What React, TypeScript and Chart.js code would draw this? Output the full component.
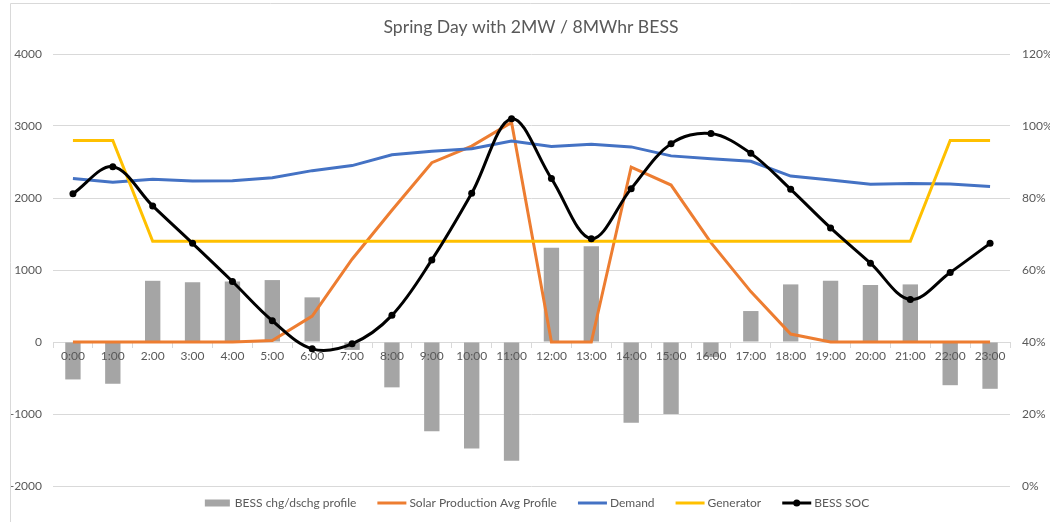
import React, { useEffect, useRef } from 'react';
import { Chart, registerables } from 'chart.js';

Chart.register(...registerables);

const TITLE = 'Spring Day with 2MW / 8MWhr BESS';
const FONT = 'Lato, "Liberation Sans", sans-serif';
const TEXT_COLOR = '#595959';
const GRID_COLOR = '#D9D9D9';

const hours = [
  '0:00', '1:00', '2:00', '3:00', '4:00', '5:00', '6:00', '7:00', '8:00', '9:00', '10:00', '11:00',
  '12:00', '13:00', '14:00', '15:00', '16:00', '17:00', '18:00', '19:00', '20:00', '21:00', '22:00', '23:00',
];

const bessProfile = [
  -520, -580, 850, 830, 840, 860, 620, -110, -630, -1240, -1480, -1650,
  1310, 1330, -1120, -1000, -210, 430, 800, 850, 790, 800, -600, -650,
];

const solarProfile = [
  0, 0, 0, 0, 0, 20, 360, 1150, 1830, 2490, 2720, 3050,
  0, 0, 2430, 2180, 1380, 700, 110, 0, 0, 0, 0, 0,
];

const demand = [
  2270, 2220, 2260, 2235, 2240, 2280, 2380, 2450, 2600, 2650, 2685, 2790,
  2715, 2745, 2710, 2585, 2545, 2510, 2305, 2250, 2190, 2200, 2195, 2160,
];

const generator = [
  2800, 2800, 1400, 1400, 1400, 1400, 1400, 1400, 1400, 1400, 1400, 1400,
  1400, 1400, 1400, 1400, 1400, 1400, 1400, 1400, 1400, 1400, 2800, 2800,
];

const bessSoc = [
  0.812, 0.887, 0.778, 0.674, 0.568, 0.459, 0.381, 0.395, 0.474, 0.628, 0.813, 1.02,
  0.854, 0.687, 0.826, 0.951, 0.979, 0.924, 0.824, 0.717, 0.619, 0.518, 0.593, 0.674,
];

const leftMin = -2000;
const leftMax = 4000;
const leftStep = 1000;
const rightMin = 0;
const rightMax = 1.2;
const rightStep = 0.2;

const decorPlugin = {
  id: 'decor',
  afterDraw(chart: any) {
    const ctx: CanvasRenderingContext2D = chart.ctx;
    ctx.save();
    // outer chart border (left + top)
    ctx.strokeStyle = GRID_COLOR;
    ctx.lineWidth = 1;
    ctx.beginPath();
    ctx.moveTo(10.5, 522);
    ctx.lineTo(10.5, 3.5);
    ctx.lineTo(1050, 3.5);
    ctx.stroke();

    // title
    ctx.fillStyle = TEXT_COLOR;
    ctx.font = `17.6px ${FONT}`;
    ctx.textAlign = 'center';
    ctx.textBaseline = 'middle';
    ctx.fillText(TITLE, 531, 27);

    // legend
    ctx.font = `12px ${FONT}`;
    ctx.textAlign = 'left';
    const symW = 29;
    const gapT = 3;
    const gapI = 21;
    const ds = chart.data.datasets;
    const widths = ds.map((d: any) => ctx.measureText(d.label).width);
    let total = 0;
    widths.forEach((w: number) => (total += symW + gapT + w));
    total += gapI * (ds.length - 1);
    let x = 536 - total / 2;
    const y = 503;
    ds.forEach((d: any, i: number) => {
      if (d.type === 'bar') {
        ctx.fillStyle = d.backgroundColor;
        ctx.fillRect(x + 2, y - 3.5, symW - 4, 7);
      } else {
        ctx.strokeStyle = d.borderColor;
        ctx.lineWidth = 3;
        ctx.beginPath();
        ctx.moveTo(x, y);
        ctx.lineTo(x + symW, y);
        ctx.stroke();
        if (d.pointRadius > 0) {
          ctx.fillStyle = d.pointBackgroundColor;
          ctx.beginPath();
          ctx.arc(x + symW / 2, y, 3.5, 0, Math.PI * 2);
          ctx.fill();
        }
      }
      ctx.fillStyle = TEXT_COLOR;
      ctx.fillText(d.label, x + symW + gapT, y);
      x += symW + gapT + widths[i] + gapI;
    });
    ctx.restore();
  },
};

export default function App() {
  const ref = useRef<HTMLCanvasElement | null>(null);

  useEffect(() => {
    if (!ref.current) return;
    const chart = new Chart(ref.current, {
      type: 'bar',
      data: {
        labels: hours,
        datasets: [
          {
            type: 'bar',
            label: 'BESS chg/dschg profile',
            data: bessProfile,
            backgroundColor: '#A5A5A5',
            borderWidth: 0,
            barPercentage: 0.385,
            categoryPercentage: 1,
            yAxisID: 'y',
            order: 5,
          } as any,
          {
            type: 'line',
            label: 'Solar Production Avg Profile',
            data: solarProfile,
            borderColor: '#ED7D31',
            backgroundColor: '#ED7D31',
            borderWidth: 3,
            pointRadius: 0,
            tension: 0,
            yAxisID: 'y',
            order: 4,
          },
          {
            type: 'line',
            label: 'Demand',
            data: demand,
            borderColor: '#4472C4',
            backgroundColor: '#4472C4',
            borderWidth: 3,
            pointRadius: 0,
            tension: 0,
            yAxisID: 'y',
            order: 3,
          },
          {
            type: 'line',
            label: 'Generator',
            data: generator,
            borderColor: '#FFC000',
            backgroundColor: '#FFC000',
            borderWidth: 3,
            pointRadius: 0,
            tension: 0,
            yAxisID: 'y',
            order: 2,
          },
          {
            type: 'line',
            label: 'BESS SOC',
            data: bessSoc,
            borderColor: '#000000',
            backgroundColor: '#000000',
            pointBackgroundColor: '#000000',
            pointBorderColor: '#000000',
            borderWidth: 3,
            pointRadius: 3.5,
            pointBorderWidth: 0,
            tension: 0.35,
            yAxisID: 'y1',
            order: 1,
          },
        ],
      },
      options: {
        responsive: false,
        animation: false,
        layout: { padding: { top: 54, bottom: 36, left: 0, right: 0 } },
        plugins: {
          legend: { display: false },
          title: { display: false },
          tooltip: { enabled: false },
        },
        scales: {
          x: {
            type: 'category',
            position: { y: 0 } as any,
            offset: true,
            grid: {
              display: true,
              offset: true,
              drawOnChartArea: false,
              drawTicks: true,
              tickLength: 5,
              color: GRID_COLOR,
            },
            border: { display: true, color: GRID_COLOR, width: 1 },
            ticks: {
              z: 1,
              color: TEXT_COLOR,
              font: { family: FONT, size: 12 },
              padding: 2,
              maxRotation: 0,
              autoSkip: false,
            },
          },
          y: {
            type: 'linear',
            position: 'left',
            min: leftMin,
            max: leftMax,
            afterFit: (s: any) => {
              s.width = 53;
            },
            ticks: {
              stepSize: leftStep,
              color: TEXT_COLOR,
              font: { family: FONT, size: 12 },
              padding: 11,
              callback: (v: any) => String(v),
            },
            grid: { color: GRID_COLOR, drawTicks: false, lineWidth: 1 },
            border: { display: false },
          },
          y1: {
            type: 'linear',
            position: 'right',
            min: rightMin,
            max: rightMax,
            afterFit: (s: any) => {
              s.width = 40;
            },
            ticks: {
              stepSize: rightStep,
              color: TEXT_COLOR,
              font: { family: FONT, size: 12 },
              padding: 12,
              callback: (v: any) => `${Math.round(Number(v) * 100)}%`,
            },
            grid: { display: false, drawTicks: false },
            border: { display: false },
          },
        },
      } as any,
      plugins: [decorPlugin],
    });
    return () => chart.destroy();
  }, []);

  return (
    <div style={{ position: 'fixed', left: 0, top: 0, width: 1050, height: 522, background: '#fff' }}>
      <canvas ref={ref} width={1050} height={522} style={{ display: 'block' }} />
    </div>
  );
}
